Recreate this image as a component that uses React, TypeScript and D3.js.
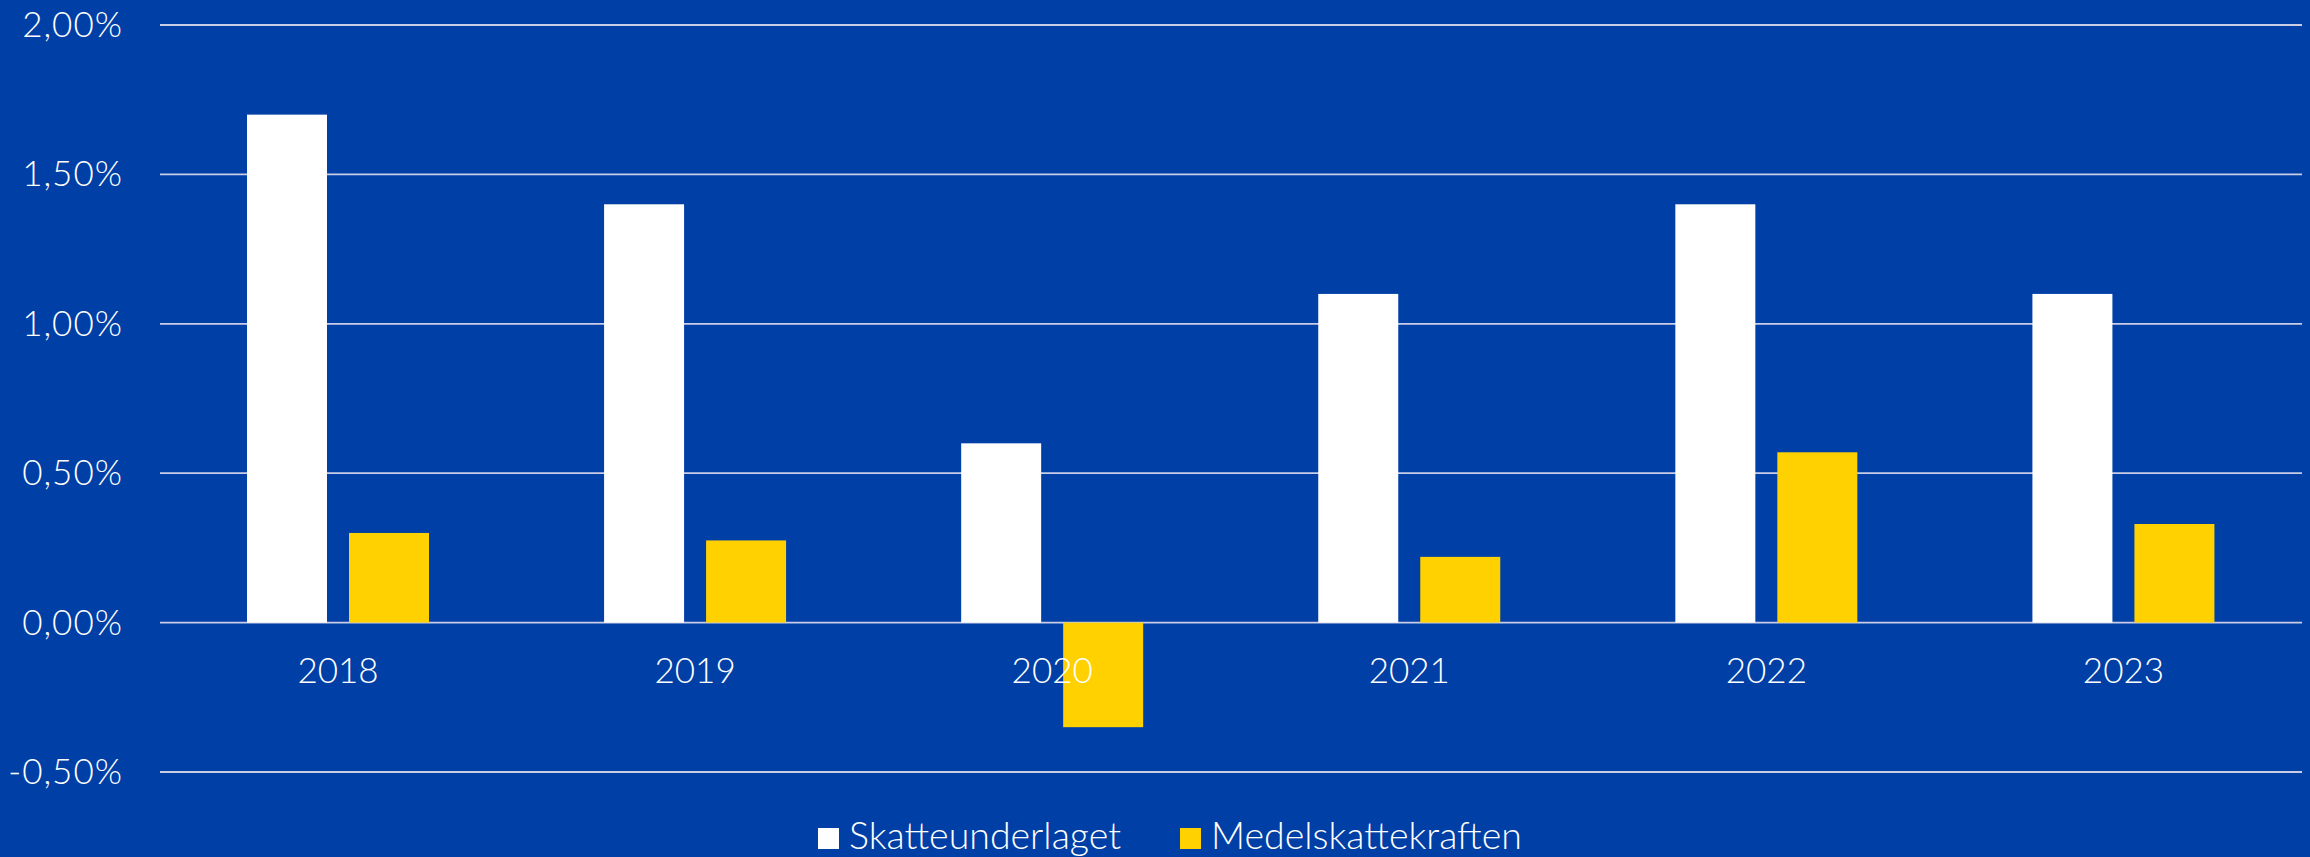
import React from "react";
import * as d3 from "d3";

const years = ["2018", "2019", "2020", "2021", "2022", "2023"];
const seriesNames = ["Skatteunderlaget", "Medelskattekraften"];
const skatteunderlaget = [1.7, 1.4, 0.6, 1.1, 1.4, 1.1];
const medelskattekraften = [0.3, 0.275, -0.35, 0.22, 0.57, 0.33];
const yTicks = [-0.5, 0, 0.5, 1.0, 1.5, 2.0];
const colors = ["#FFFFFF", "#FFD100"];

const W = 2310;
const H = 857;
const BG = "#003FA6";
const FONT = "Lato, 'Open Sans', sans-serif";

export default function App() {
  const x0 = d3.scaleBand<string>().domain(years).range([159.5, 2302]).padding(0);
  const x1 = d3
    .scaleBand<string>()
    .domain(seriesNames)
    .range([87.5, 269.5])
    .paddingInner(0.2157)
    .paddingOuter(0);
  const y = d3.scaleLinear().domain([-0.5, 2.0]).range([772, 25]);
  const fmt = (v: number) => v.toFixed(2).replace(".", ",") + "%";
  const data = [skatteunderlaget, medelskattekraften];

  return (
    <svg
      width={W}
      height={H}
      style={{ position: "absolute", left: 0, top: 0, display: "block" }}
      fontFamily={FONT}
    >
      <rect x={0} y={0} width={W} height={H} fill={BG} />
      {yTicks.map((t) => (
        <g key={t}>
          <line
            x1={160}
            x2={2302}
            y1={y(t)}
            y2={y(t)}
            stroke="#C9CEE6"
            strokeWidth={1.8}
          />
          <text
            x={123}
            y={y(t) + 12}
            textAnchor="end"
            fill="#FFFFFF"
            fontSize={35}
            fontWeight={300}
            letterSpacing={1}
          >
            {fmt(t)}
          </text>
        </g>
      ))}
      {years.map((yr, i) => (
        <g key={yr} transform={`translate(${x0(yr)},0)`}>
          {seriesNames.map((s, j) => {
            const v = data[j][i];
            const top = y(Math.max(0, v));
            const h = Math.abs(y(v) - y(0));
            return (
              <rect
                key={s}
                x={x1(s)}
                y={top}
                width={x1.bandwidth()}
                height={h}
                fill={colors[j]}
              />
            );
          })}
        </g>
      ))}
      {years.map((yr) => (
        <text
          key={yr}
          x={(x0(yr) as number) + x0.bandwidth() / 2}
          y={683}
          textAnchor="middle"
          fill="#FFFFFF"
          fontSize={35}
          fontWeight={300}
        >
          {yr}
        </text>
      ))}
      {seriesNames.map((s, j) => {
        const lx = j === 0 ? 818 : 1180;
        return (
          <g key={s}>
            <rect x={lx} y={828} width={21} height={21} fill={colors[j]} />
            <text
              x={lx + 31}
              y={849}
              fill="#FFFFFF"
              fontSize={37.5}
              fontWeight={300}
            >
              {s}
            </text>
          </g>
        );
      })}
    </svg>
  );
}
